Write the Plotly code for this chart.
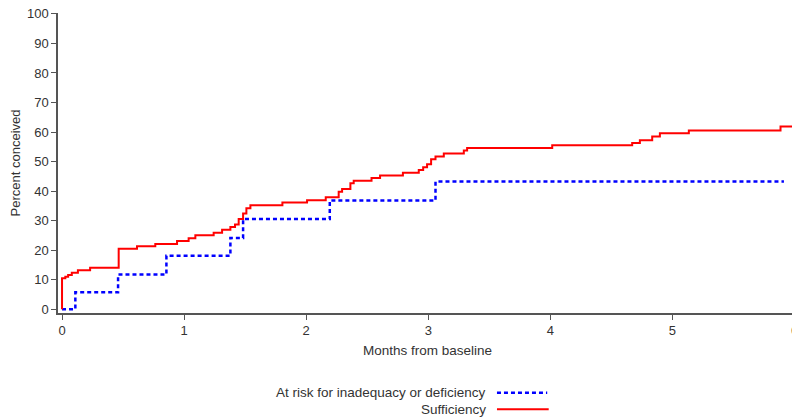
import plotly.graph_objects as go

# Kaplan-Meier style cumulative conception curves (step functions)
suff_months = [0, 0, 0.027, 0.05, 0.08, 0.13, 0.23, 0.464, 0.614, 0.764, 0.942, 1.037,
               1.092, 1.242, 1.311, 1.379, 1.417, 1.447, 1.483, 1.51, 1.543, 1.805,
               2.007, 2.16, 2.266, 2.294, 2.362, 2.389, 2.535, 2.605, 2.792, 2.922,
               2.958, 2.99, 3.023, 3.059, 3.127, 3.291, 3.318, 4.015, 4.67, 4.733,
               4.834, 4.897, 5.134, 5.885, 6.0]
suff_pct = [0, 10.5, 11.0, 11.6, 12.3, 13.2, 14.0, 20.5, 21.3, 22.1, 23.1, 24.0,
            25.0, 25.9, 26.9, 27.8, 28.7, 30.5, 32.4, 34.2, 35.2, 36.1,
            36.9, 37.9, 39.8, 40.7, 42.6, 43.5, 44.4, 45.3, 46.2, 47.1,
            48.1, 49.1, 50.8, 51.7, 52.7, 53.7, 54.6, 55.5, 56.3, 57.2,
            58.5, 59.6, 60.5, 61.9, 61.9]

risk_months = [0, 0.109, 0.459, 0.855, 1.379, 1.483, 2.193, 3.059, 5.913]
risk_pct = [0, 5.7, 11.7, 18.1, 24.1, 30.5, 36.8, 43.2, 43.2]

x_ticks = [0, 1, 2, 3, 4, 5, 6]
y_ticks = [0, 10, 20, 30, 40, 50, 60, 70, 80, 90, 100]

RED = "#FF0000"
BLUE = "#0000FF"
AXIS = "#555555"
TEXT = "#333333"
FONT = "Liberation Sans"

fig = go.Figure()

fig.add_trace(go.Scatter(
    x=risk_months, y=risk_pct, mode="lines", line_shape="hv",
    line=dict(color=BLUE, width=2.5, dash="4px,3px"),
    name="At risk for inadequacy or deficiency",
))
fig.add_trace(go.Scatter(
    x=suff_months, y=suff_pct, mode="lines", line_shape="hv",
    line=dict(color=RED, width=2),
    name="Sufficiency",
))

# legend drawn by hand: text on the left, line sample on the right
legend_rows = [
    ("At risk for inadequacy or deficiency", BLUE, "4px,3px", 2.5, -0.266, 0.662),
    ("Sufficiency", RED, "solid", 2, -0.321, 0.664),
]
for label, color, dash, width, ypos, xend in legend_rows:
    fig.add_annotation(
        text=label, xref="paper", yref="paper", x=0.582, y=ypos,
        xanchor="right", yanchor="middle", showarrow=False,
        font=dict(size=13.5, color=TEXT, family=FONT),
    )
    fig.add_shape(
        type="line", xref="paper", yref="paper", x0=0.594, x1=xend, y0=ypos, y1=ypos,
        line=dict(color=color, width=width, dash=dash),
    )

# the page keeps an 8px body margin, so the figure is sized to fit inside it
fig.update_layout(
    width=792,
    height=410,
    margin=dict(l=50, r=3, t=5, b=105),
    plot_bgcolor="white",
    paper_bgcolor="white",
    showlegend=False,
    font=dict(family=FONT, size=13, color=TEXT),
)
fig.update_xaxes(
    range=[-0.033, 6.02], tickvals=x_ticks, showgrid=False, zeroline=False,
    showline=True, linecolor=AXIS, linewidth=1.5,
    ticks="outside", ticklen=5, tickcolor=AXIS,
    automargin=False, ticklabeloverflow="allow",
    title=dict(text="Months from baseline", standoff=8, font=dict(size=13.5)),
)
fig.update_yaxes(
    range=[-1.3, 100.3], tickvals=y_ticks, showgrid=False, zeroline=False,
    showline=True, linecolor=AXIS, linewidth=1.5,
    ticks="outside", ticklen=5, tickcolor=AXIS,
    automargin=False, ticklabeloverflow="allow",
    title=dict(text="Percent conceived", standoff=6, font=dict(size=13)),
)

fig.write_html("out.html")
